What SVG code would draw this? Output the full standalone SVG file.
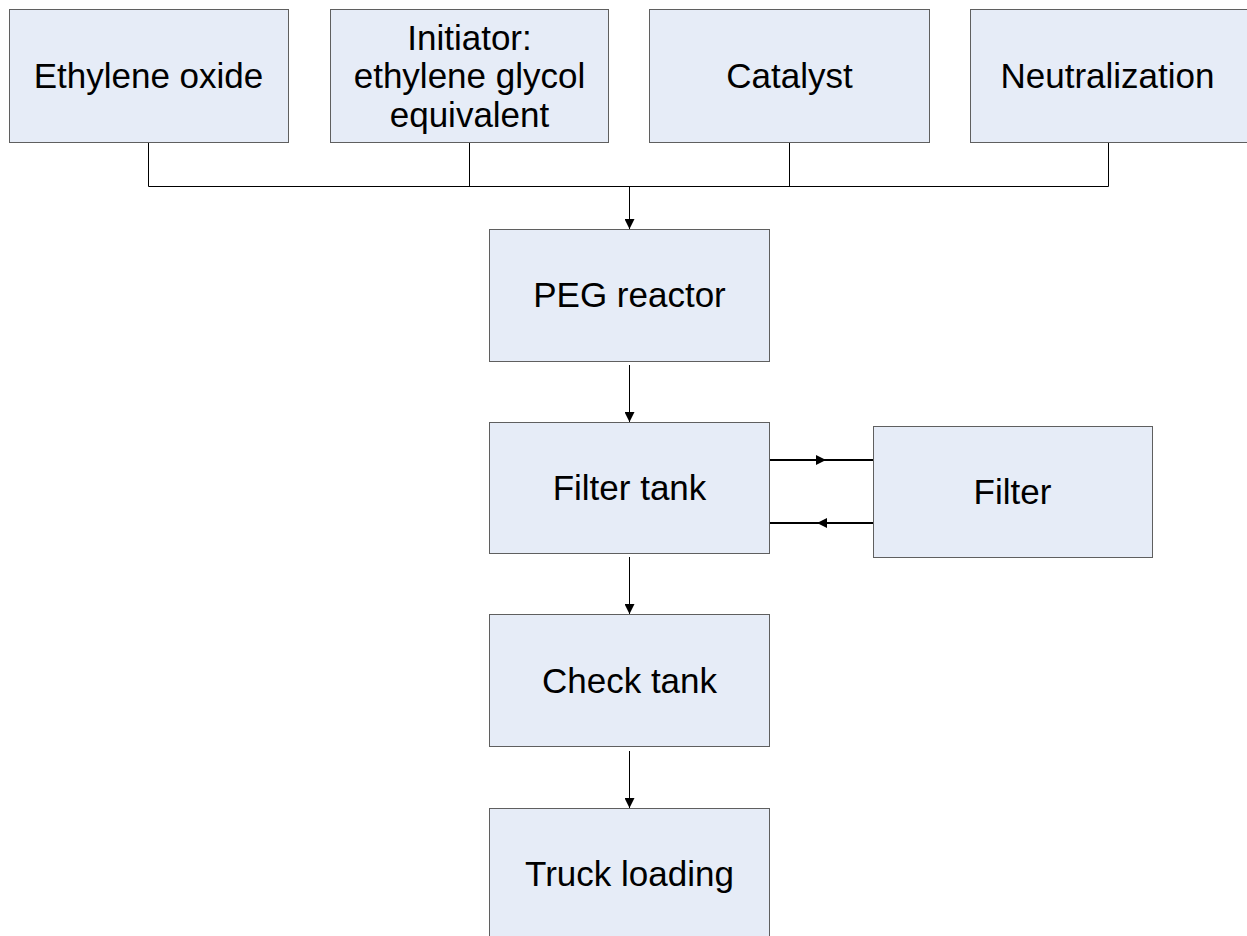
<svg xmlns="http://www.w3.org/2000/svg" width="1247" height="936" viewBox="0 0 1247 936">
<style>
.box{fill:#E6ECF7;stroke:#5f5f5f;stroke-width:1}
.t{font-family:"Liberation Sans",Arial,sans-serif;font-size:35px;fill:#000;text-anchor:middle}
.c{fill:none;stroke:#000;stroke-width:1}
.c2{fill:none;stroke:#000;stroke-width:2}
</style>
<defs>
<marker id="ah" viewBox="0 0 10 10" refX="10" refY="5" markerWidth="10" markerHeight="10" markerUnits="userSpaceOnUse" orient="auto">
<path d="M0,0 L10,5 L0,10 Z" fill="#000"/>
</marker>
</defs>
<rect width="1247" height="936" fill="#fff"/>
<g id="connectors">
<path class="c" d="M148.5,142.5 V186.5 H1108.5 M469.5,142.5 V186.5 M789.5,142.5 V186.5 M1108.5,142.5 V186.5"/>
<path class="c" d="M629.5,186.5 V229" marker-end="url(#ah)"/>
<path class="c" d="M629.5,365 V422" marker-end="url(#ah)"/>
<path class="c" d="M629.5,557 V614" marker-end="url(#ah)"/>
<path class="c" d="M629.5,751 V808" marker-end="url(#ah)"/>
<path class="c2" d="M769,460 H826" marker-end="url(#ah)"/>
<path class="c2" d="M826,460 H873"/>
<path class="c2" d="M873,523 H817" marker-end="url(#ah)"/>
<path class="c2" d="M817,523 H769"/>
</g>
<g id="n1"><rect class="box" x="9.5" y="9.5" width="279" height="133"/><text class="t" x="148.5" y="87.5">Ethylene oxide</text></g>
<g id="n2"><rect class="box" x="330.5" y="9.5" width="278" height="133"/><text class="t" x="469.5" y="49.5">Initiator:</text><text class="t" x="469.5" y="88">ethylene glycol</text><text class="t" x="469.5" y="126.5">equivalent</text></g>
<g id="n3"><rect class="box" x="649.5" y="9.5" width="280" height="133"/><text class="t" x="789.5" y="87.5">Catalyst</text></g>
<g id="n4"><rect class="box" x="970.5" y="9.5" width="300" height="133"/><text class="t" x="1107.5" y="87.5">Neutralization</text></g>
<g id="n5"><rect class="box" x="489.5" y="229.5" width="280" height="132"/><text class="t" x="629.5" y="306.5">PEG reactor</text></g>
<g id="n6"><rect class="box" x="489.5" y="422.5" width="280" height="131"/><text class="t" x="629.5" y="499.5">Filter tank</text></g>
<g id="n7"><rect class="box" x="873.5" y="426.5" width="279" height="131"/><text class="t" x="1012.5" y="503.5">Filter</text></g>
<g id="n8"><rect class="box" x="489.5" y="614.5" width="280" height="132"/><text class="t" x="629.5" y="692.5">Check tank</text></g>
<g id="n9"><rect class="box" x="489.5" y="808.5" width="280" height="132"/><text class="t" x="629.5" y="885.5">Truck loading</text></g>
</svg>
